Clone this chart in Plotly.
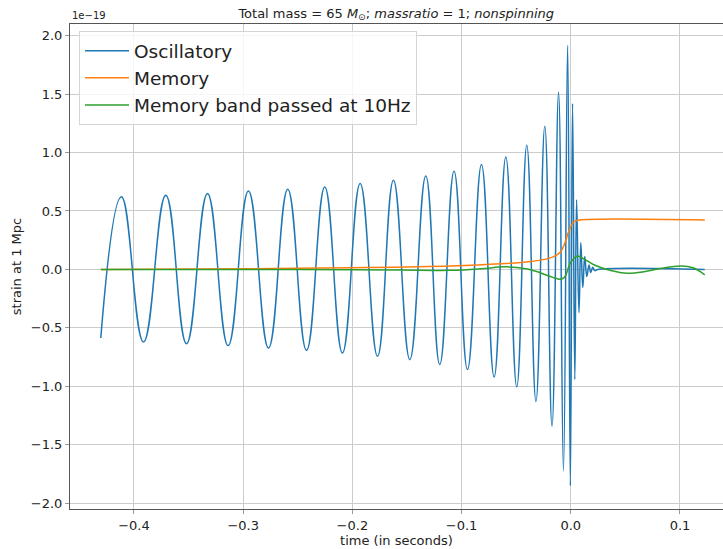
import plotly.graph_objects as go

# Oscillatory waveform: extrema (time in s, strain in 1e-19)
osc_t = [-0.4304, -0.4115, -0.3913, -0.3709, -0.3519, -0.3327, -0.3138, -0.2952,
         -0.2768, -0.2592, -0.2420, -0.2253, -0.2091, -0.1929, -0.1770, -0.1624,
         -0.1474, -0.1328, -0.1200, -0.1069, -0.0946, -0.0818, -0.0702, -0.0595,
         -0.0495, -0.0403, -0.0319, -0.0238, -0.0172, -0.0112, -0.0067, -0.0029,
         -0.0004, 0.0016, 0.0037, 0.0053, 0.0075, 0.0092, 0.0110, 0.0128,
         0.0147, 0.0167, 0.0183, 0.0201, 0.0220, 0.0247, 0.1227]
osc_h = [-0.587, 0.621, -0.621, 0.635, -0.635, 0.650, -0.652, 0.670,
         -0.672, 0.687, -0.692, 0.706, -0.715, 0.735, -0.743, 0.763,
         -0.772, 0.800, -0.814, 0.840, -0.857, 0.897, -0.920, 0.962,
         -1.005, 1.062, -1.130, 1.225, -1.343, 1.515, -1.724, 1.918,
         -1.850, 1.420, -0.942, 0.596, -0.370, 0.230, -0.155, 0.110,
         -0.060, 0.038, -0.027, 0.018, -0.010, 0.0, 0.0]

mem_t = [-0.4304, -0.2930, -0.2015, -0.1099, -0.0641, -0.0366, -0.0229, -0.0156,
         -0.0092, -0.0055, -0.0025, 0.0, 0.0030, 0.0076, 0.1227]
mem_h = [0.0, 0.006, 0.015, 0.030, 0.048, 0.068, 0.088, 0.110,
         0.152, 0.224, 0.309, 0.365, 0.408, 0.422, 0.422]

band_t = [-0.4304, -0.2473, -0.1557, -0.1099, -0.0824, -0.0595, -0.0412, -0.0275,
          -0.0165, -0.0092, -0.0055, -0.0027, 0.0, 0.0060, 0.0119, 0.0211,
          0.0366, 0.0519, 0.0671, 0.0824, 0.1007, 0.1126, 0.1227]
band_h = [0.0, 0.0, -0.006, -0.008, 0.005, 0.022, 0.005, -0.030,
          -0.068, -0.084, -0.065, 0.0, 0.060, 0.115, 0.090, 0.040,
          -0.010, -0.033, -0.020, 0.008, 0.030, 0.012, -0.047]

x_ticks = [-0.4, -0.3, -0.2, -0.1, 0.0, 0.1]
y_ticks = [-2.0, -1.5, -1.0, -0.5, 0.0, 0.5, 1.0, 1.5, 2.0]

FONT = "DejaVu Sans"
fig = go.Figure()
fig.add_trace(go.Scatter(x=osc_t, y=osc_h, mode="lines", name="Oscillatory",
                         line=dict(color="#1f77b4", width=1.5, shape="spline", smoothing=1.3)))
fig.add_trace(go.Scatter(x=mem_t, y=mem_h, mode="lines", name="Memory",
                         line=dict(color="#ff7f0e", width=1.5, shape="spline", smoothing=1.0)))
fig.add_trace(go.Scatter(x=band_t, y=band_h, mode="lines", name="Memory band passed at 10Hz",
                         line=dict(color="#2ca02c", width=1.5, shape="spline", smoothing=1.0)))

fig.update_layout(
    width=723, height=549,
    margin=dict(l=70, r=0, t=24, b=40),
    paper_bgcolor="white", plot_bgcolor="white",
    font=dict(family=FONT, size=13, color="#222"),
    title=dict(text="Total mass = 65 <i>M</i><sub>⊙</sub>; <i>massratio</i> = 1; <i>nonspinning</i>",
               x=0.548, xanchor="center", y=0.976, yanchor="middle", yref="container",
               font=dict(family=FONT, size=13, color="#222")),
    showlegend=True,
    legend=dict(x=0.0138, y=0.985, xanchor="left", yanchor="top",
                bgcolor="rgba(255,255,255,0.8)", bordercolor="#d5d5d5", borderwidth=1,
                font=dict(family=FONT, size=18.5, color="#222"), itemwidth=44),
    annotations=[dict(text="1e−19", xref="paper", yref="paper", x=0.0, y=1.0,
                      xanchor="left", yanchor="bottom", showarrow=False, yshift=1,
                      font=dict(family=FONT, size=10, color="#222"))],
)
fig.update_xaxes(range=[-0.4586, 0.1394], tickvals=x_ticks, tickformat=".1f",
                 showgrid=True, gridcolor="#cccccc", gridwidth=1, zeroline=False,
                 showline=True, linecolor="#555", linewidth=1, mirror=True,
                 ticks="outside", ticklen=4, tickcolor="#999",
                 tickfont=dict(family=FONT, size=13, color="#222"),
                 title=dict(text="time (in seconds)", standoff=3,
                            font=dict(family=FONT, size=13, color="#222")))
fig.update_yaxes(range=[-2.05, 2.10], tickvals=y_ticks, tickformat=".1f",
                 showgrid=True, gridcolor="#cccccc", gridwidth=1, zeroline=False,
                 showline=True, linecolor="#555", linewidth=1,
                 ticks="outside", ticklen=4, tickcolor="#999",
                 tickfont=dict(family=FONT, size=13, color="#222"),
                 title=dict(text="strain at 1 Mpc", standoff=6,
                            font=dict(family=FONT, size=13, color="#222")))

fig.write_html("out.html")
